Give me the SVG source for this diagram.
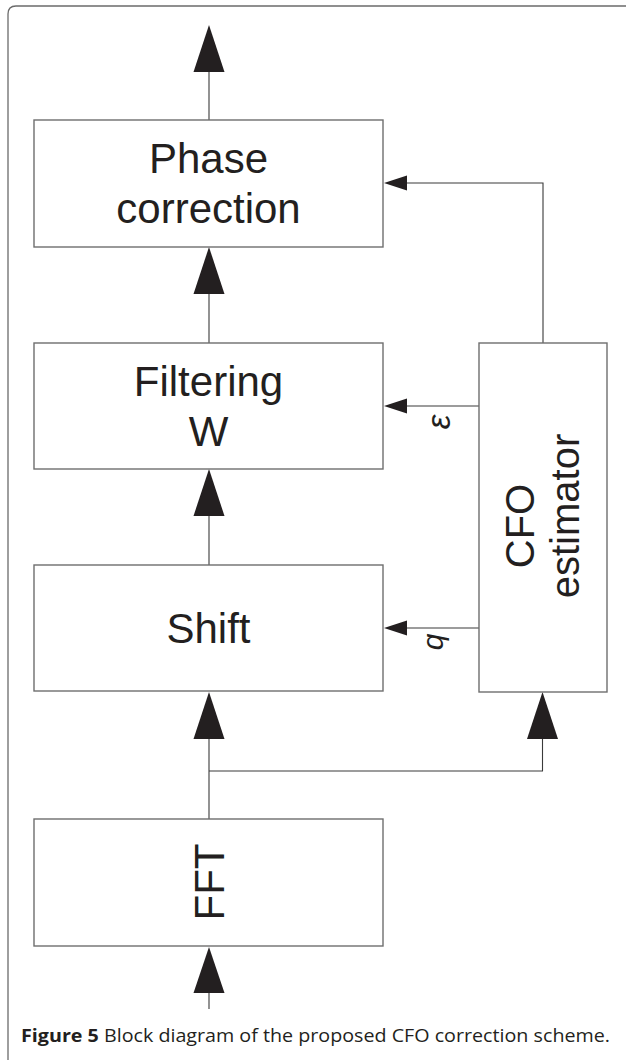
<svg xmlns="http://www.w3.org/2000/svg" width="626" height="1060" viewBox="0 0 626 1060">
  <defs>
    <style>
      .frame { fill: none; stroke: #6b6b6b; stroke-width: 1.3; }
      .box { fill: #ffffff; stroke: #6e6e6e; stroke-width: 1.4; }
      .wire { fill: none; stroke: #3a3a3a; stroke-width: 1.1; }
      .head { fill: #231f20; }
      .lbl { font-family: "Liberation Sans", Arial, sans-serif; font-size: 42px; fill: #231f20; text-anchor: middle; }
      .sym { font-family: "Liberation Sans", Arial, sans-serif; font-style: italic; fill: #231f20; text-anchor: middle; }
      .cap { font-family: "Open Sans", "Noto Sans", sans-serif; font-size: 17.5px; fill: #231f20; }
    </style>
  </defs>

  <!-- page frame (open at bottom and right) -->
  <path class="frame" d="M 8 1060 V 14 Q 8 6 16 6 H 626"/>

  <!-- connectors -->
  <g id="connectors">
    <!-- output of phase correction -->
    <line class="wire" x1="209" y1="72" x2="209" y2="120"/>
    <polygon class="head" points="209,25 193.5,72 224.5,72"/>
    <!-- filtering -> phase correction -->
    <line class="wire" x1="209" y1="294" x2="209" y2="343"/>
    <polygon class="head" points="209,247 193.5,294 224.5,294"/>
    <!-- shift -> filtering -->
    <line class="wire" x1="209" y1="516" x2="209" y2="565"/>
    <polygon class="head" points="209,469 193.5,516 224.5,516"/>
    <!-- FFT -> shift, with branch to CFO estimator -->
    <line class="wire" x1="209" y1="739" x2="209" y2="819"/>
    <polygon class="head" points="209,692 193.5,739 224.5,739"/>
    <polyline class="wire" points="209,771 542.5,771 542.5,739"/>
    <polygon class="head" points="542.5,692 527,739 558,739"/>
    <!-- input to FFT -->
    <line class="wire" x1="209" y1="993" x2="209" y2="1009"/>
    <polygon class="head" points="209,947 193.5,993 224.5,993"/>
    <!-- CFO estimator -> phase correction -->
    <polyline class="wire" points="543,343 543,183 406,183"/>
    <polygon class="head" points="384,183 407,175.5 407,190.5"/>
    <!-- epsilon -> filtering -->
    <line class="wire" x1="406" y1="406" x2="479" y2="406"/>
    <polygon class="head" points="384,406 407,398.5 407,413.5"/>
    <!-- q -> shift -->
    <line class="wire" x1="406" y1="628" x2="479" y2="628"/>
    <polygon class="head" points="384,628 407,620.5 407,635.5"/>
    <text class="sym" style="font-size:33px" transform="translate(450,422) rotate(-90)">ε</text>
    <text class="sym" style="font-size:30px" transform="translate(443,642) rotate(-90)">q</text>
  </g>

  <g id="phase-correction">
    <rect class="box" x="34" y="120" width="349" height="127"/>
    <text class="lbl" x="208.5" y="173">Phase</text>
    <text class="lbl" x="208.5" y="223">correction</text>
  </g>

  <g id="filtering">
    <rect class="box" x="34" y="343" width="349" height="126"/>
    <text class="lbl" x="208.5" y="396">Filtering</text>
    <text class="lbl" x="208.5" y="446">W</text>
  </g>

  <g id="shift">
    <rect class="box" x="34" y="565" width="349" height="126"/>
    <text class="lbl" x="208.5" y="643">Shift</text>
  </g>

  <g id="fft">
    <rect class="box" x="34" y="819" width="349" height="127"/>
    <text class="lbl" transform="translate(224,882) rotate(-90)">FFT</text>
  </g>

  <g id="cfo-estimator">
    <rect class="box" x="479" y="343" width="128" height="349"/>
    <text class="lbl" style="font-size:40px" transform="translate(534,526) rotate(-90)">CFO</text>
    <text class="lbl" style="font-size:40px" transform="translate(579,516) rotate(-90)">estimator</text>
  </g>

  <text class="cap" x="21" y="1042" textLength="589" lengthAdjust="spacingAndGlyphs"><tspan font-weight="bold">Figure 5</tspan> Block diagram of the proposed CFO correction scheme.</text>
</svg>
